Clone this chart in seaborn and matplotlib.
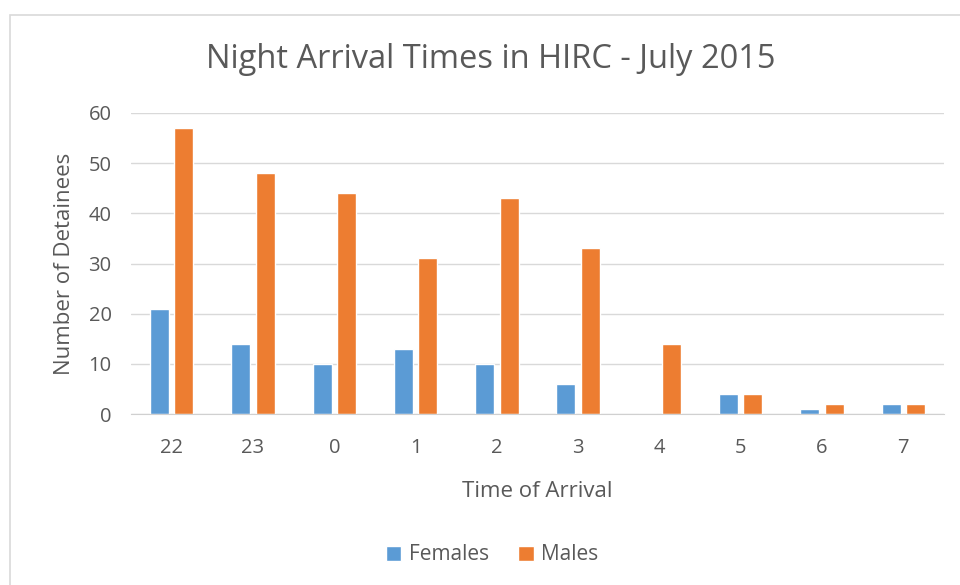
import matplotlib.pyplot as plt
import seaborn as sns
import pandas as pd
from matplotlib.patches import Rectangle

hours = ['22', '23', '0', '1', '2', '3', '4', '5', '6', '7']
females = [21, 14, 10, 13, 10, 6, 0, 4, 1, 2]
males = [57, 48, 44, 31, 43, 33, 14, 4, 2, 2]

df = pd.DataFrame({
    'hour': hours * 2,
    'count': females + males,
    'sex': ['Females'] * len(hours) + ['Males'] * len(hours),
})

sns.set_style('white')
plt.rcParams['font.family'] = ['Open Sans', 'DejaVu Sans']
grey = '#595959'

fig = plt.figure(figsize=(9.6, 5.85), dpi=100)
ax = fig.add_axes([131/960, 1-414/585, (944-131)/960, (414-113)/585])

sns.barplot(data=df, x='hour', y='count', hue='sex', order=hours,
            palette=['#5B9BD5', '#ED7D31'], width=0.6, gap=0.22,
            saturation=1, ax=ax, legend=True)

ax.set_ylim(0, 60)
ax.set_yticks(range(0, 61, 10))
ax.set_xlim(-0.5, len(hours) - 0.5)
ax.grid(axis='y', color='#d9d9d9', lw=1)
ax.set_axisbelow(True)
for s in ['top', 'right', 'left']:
    ax.spines[s].set_visible(False)
ax.spines['bottom'].set_color('#d0d0d0')
ax.tick_params(length=0, labelsize=14.5, colors=grey, pad=17)
ax.tick_params(axis='y', pad=14)

ax.set_xlabel('Time of Arrival', fontsize=16, color=grey, labelpad=17)
ax.set_ylabel('Number of Detainees', fontsize=16, color=grey, labelpad=10)
fig.text(491/960, 1-60/585, 'Night Arrival Times in HIRC - July 2015',
         ha='center', va='center', fontsize=23.5, color=grey)

ax.legend(loc='center', bbox_to_anchor=(492/960, 1-555/585),
          bbox_transform=fig.transFigure, ncol=2, frameon=False,
          fontsize=15, labelcolor=grey, handlelength=0.75, handleheight=0.75,
          columnspacing=1.4, handletextpad=0.35)

fig.patches.append(Rectangle((10/960, -0.1), 1.1, 1 - 15/585 + 0.1, fill=False,
                             ec='#d9d9d9', lw=1.2, transform=fig.transFigure))

fig.savefig('out.png', dpi=100)
